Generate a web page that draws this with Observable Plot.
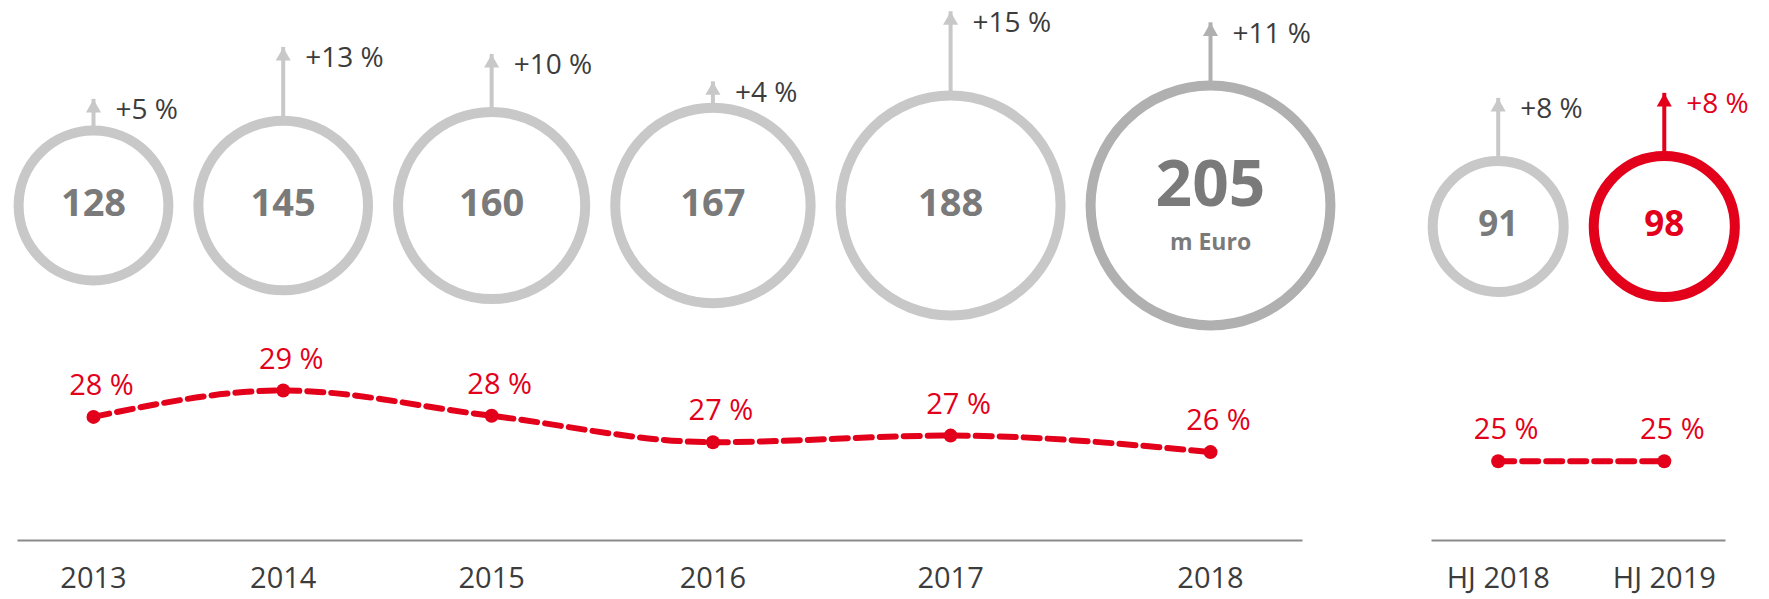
<!DOCTYPE html>
<html><head><meta charset="utf-8">
<script src="https://cdn.jsdelivr.net/npm/d3@7"></script>
<script src="https://cdn.jsdelivr.net/npm/@observablehq/plot@0.6"></script>
<style>
body{margin:0;background:#fff;font-family:"Open Sans",sans-serif;}
#chart{display:flex;width:1769px;height:599px;overflow:hidden;}
.col{display:flex;flex-direction:column;}
svg{display:block;}
</style></head><body>
<div id="chart"><div class="col" id="annual"></div><div class="col" id="half"></div></div>
<script>
// ---- data ----
const years = ["2013", "2014", "2015", "2016", "2017", "2018"];
const earnings = [128, 145, 160, 167, 188, 205];          // m Euro
const growth = [5, 13, 10, 4, 15, 11];                    // % vs previous year
const marginPct = [27.8, 29.0, 27.85, 26.65, 26.95, 26.2]; // %
const halfYears = ["HJ 2018", "HJ 2019"];
const halfEarnings = [91, 98];
const halfGrowth = [8, 8];
const halfMarginPct = [25.0, 25.0];
const unitLabel = "m Euro";

// ---- style ----
const RED = "#e2001a", RING = "#c8c8c8", RING_DARK = "#b0b0b0", NUM = "#7a7a7a", TXT = "#3c3c3c", AXIS = "#8a8a8a";
const FONT = "'Open Sans', sans-serif";
const TOP_H = 345, BOT_H = 254, RING_W = 10;

function group(el, cfg) {
  const {cats, vals, grow, pct, width, k, cy, x0, gap, arrowPx, pctDomain, pctRange, lineX, axisY,
         highlight, unitIdx, numSize} = cfg;
  // circles packed left to right; 1 unit = k px
  const u = [x0 / k];
  for (let i = 1; i < vals.length; i++) u.push(u[i - 1] + vals[i - 1] + vals[i] + gap / k);
  const rows = cats.map((c, i) => ({cat: c, value: vals[i], growth: grow[i], pct: pct[i], u: u[i], i}));
  const tip = d => d.value + RING_W / 2 / k + d.growth * arrowPx / k;
  const ring = d => d.i === highlight ? RED : d.i === unitIdx ? RING_DARK : RING;
  const txtCol = d => d.i === highlight ? RED : TXT;
  const numCol = d => d.i === highlight ? RED : NUM;
  const xScale = {type: "linear", domain: [0, width / k], range: [0, width], axis: null};
  const style = {fontFamily: FONT, background: "transparent", overflow: "visible"};

  const top = Plot.plot({
    width, height: TOP_H, margin: 0, style,
    x: xScale,
    y: {type: "linear", domain: [-(TOP_H - cy) / k, cy / k], range: [TOP_H, 0], axis: null},
    r: {type: "linear", domain: [0, 100], range: [0, 100 * k]},
    marks: [
      Plot.ruleX(rows, {x: "u", y1: "value", y2: tip, stroke: ring, strokeWidth: 4, insetTop: 8}),
      Plot.dot(rows, {x: "u", y: tip, symbol: "triangle", r: 5.6, fill: ring, dy: 8.7}),
      Plot.text(rows, {x: "u", y: tip, text: d => `+${d.growth} %`, textAnchor: "start", dx: 22, dy: 11,
        fontSize: 28, fill: txtCol}),
      Plot.dot(rows, {x: "u", y: () => 0, r: "value", stroke: ring, strokeWidth: RING_W, fill: "white"}),
      Plot.text(rows, {filter: d => d.i !== unitIdx, x: "u", y: () => 0, text: d => String(d.value),
        fontSize: numSize, fontWeight: 700, fill: numCol, dy: -2}),
      Plot.text(rows, {filter: d => d.i === unitIdx, x: "u", y: () => 0, text: d => String(d.value),
        fontSize: 64, fontWeight: 700, fill: NUM, dy: -20}),
      Plot.text(rows, {filter: d => d.i === unitIdx, x: "u", y: () => 0, text: () => unitLabel,
        fontSize: 23, fontWeight: 700, fill: NUM, dy: 37})
    ]
  });

  const bottom = Plot.plot({
    width, height: BOT_H, style,
    marginLeft: lineX[0], marginRight: width - lineX[1], marginTop: 0, marginBottom: BOT_H - axisY,
    x: xScale,
    y: {type: "linear", domain: pctDomain, range: pctRange, axis: null},
    marks: [
      Plot.frame({anchor: "bottom", stroke: AXIS, strokeWidth: 2}),
      Plot.line(rows, {x: "u", y: "pct", stroke: RED, strokeWidth: 6, strokeDasharray: "16,8", curve: "monotone-x"}),
      Plot.dot(rows, {x: "u", y: "pct", r: 7, fill: RED}),
      Plot.text(rows, {x: "u", y: "pct", text: d => `${Math.round(d.pct)} %`, dx: 8, dy: -22,
        lineAnchor: "bottom", fontSize: 29, fill: RED}),
      Plot.text(rows, {x: "u", text: "cat", frameAnchor: "bottom", lineAnchor: "bottom", dy: 47,
        fontSize: 29, fill: TXT})
    ]
  });
  el.append(top, bottom);
}

group(document.getElementById("annual"), {
  cats: years, vals: earnings, grow: growth, pct: marginPct,
  width: 1370, k: 0.585, cy: 205, x0: 93, gap: 30, arrowPx: 5.25,
  pctDomain: [29, 26], pctRange: [45, 111], lineX: [18, 1301], axisY: 195,
  highlight: -1, unitIdx: earnings.length - 1, numSize: 38
});
group(document.getElementById("half"), {
  cats: halfYears, vals: halfEarnings, grow: halfGrowth, pct: halfMarginPct,
  width: 399, k: 0.72, cy: 226, x0: 127.7, gap: 30, arrowPx: 7.2,
  pctDomain: [26, 24], pctRange: [93.7, 137.7], lineX: [62, 354], axisY: 195,
  highlight: halfEarnings.length - 1, unitIdx: -1, numSize: 35
});
</script>
</body></html>
